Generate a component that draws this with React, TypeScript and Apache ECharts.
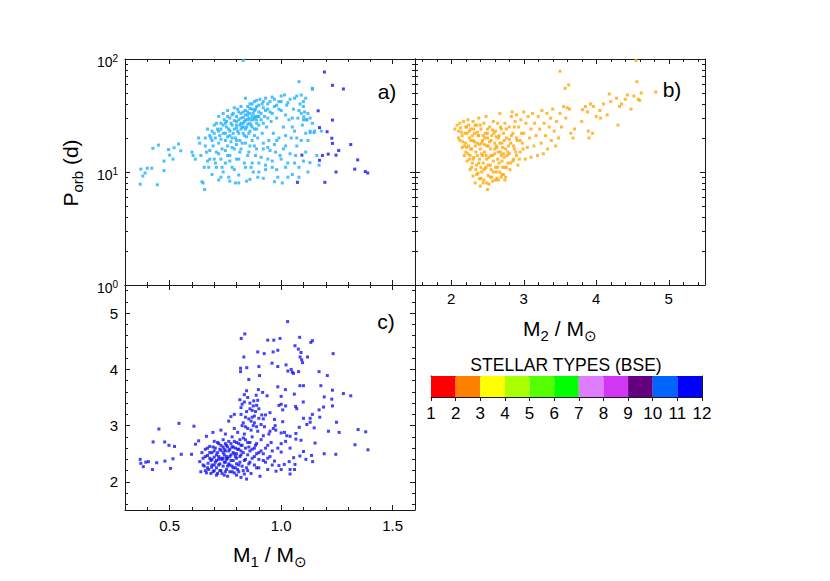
import React, { useEffect, useRef } from 'react';
import * as echarts from 'echarts';

const FONT = '"Liberation Sans", Arial, Helvetica, sans-serif';

// Panel a) : [M1 (Msun), Porb (d)]  — light-blue population
const panelALight: [number, number][] = [
  [0.368, 7.8], [0.371, 10.6], [0.38, 9.2], [0.39, 9.8], [0.4, 10.8], [0.42, 10.8], [0.425, 16.2], [0.445, 7.7],
  [0.45, 17.3], [0.475, 10.3], [0.475, 12.5], [0.495, 15.8], [0.5, 14.1], [0.515, 13], [0.52, 16.4], [0.54, 17.7], [0.55, 15.4],
  [0.6, 15], [0.605, 14], [0.615, 13], [0.63, 20], [0.635, 18], [0.64, 14], [0.645, 8.2], [0.65, 8], [0.655, 11], [0.657, 7],
  [0.66, 20], [0.665, 15], [0.67, 12.5], [0.675, 11], [0.68, 15.5], [0.68, 21], [0.685, 20], [0.69, 23], [0.69, 9.5], [0.695, 17], [0.7, 13],
  [0.7, 26], [0.705, 20], [0.71, 15], [0.71, 11], [0.715, 24], [0.72, 18], [0.72, 8.5], [0.725, 21], [0.73, 13], [0.73, 27], [0.735, 16],
  [0.74, 22], [0.74, 10], [0.745, 29], [0.75, 19], [0.75, 12], [0.755, 25], [0.76, 17], [0.76, 31], [0.765, 9], [0.77, 23], [0.77, 14],
  [0.775, 27], [0.78, 20], [0.78, 11], [0.785, 33], [0.79, 24], [0.79, 16], [0.795, 8], [0.8, 28], [0.8, 19], [0.8, 13], [0.805, 36],
  [0.81, 22], [0.81, 9.4], [0.815, 26], [0.815, 15], [0.83, 97],
  [0.82, 30], [0.82, 24], [0.825, 18], [0.83, 34], [0.83, 27], [0.835, 21], [0.835, 12], [0.84, 45], [0.84, 32], [0.845, 25], [0.845, 8.3],
  [0.85, 38], [0.85, 29], [0.855, 22], [0.855, 15], [0.86, 40], [0.86, 33], [0.865, 26], [0.865, 11], [0.87, 36], [0.87, 19], [0.875, 29],
  [0.875, 10], [0.88, 42], [0.88, 24], [0.885, 31], [0.885, 14], [0.89, 38], [0.89, 27], [0.895, 20], [0.895, 9], [0.9, 34], [0.9, 12],
  [0.905, 44], [0.91, 29], [0.915, 22], [0.92, 37], [0.92, 16], [0.925, 31], [0.93, 45], [0.93, 10.5], [0.935, 25], [0.94, 40], [0.94, 13],
  [0.945, 19], [0.95, 34], [0.955, 28], [0.96, 46], [0.96, 11], [0.965, 22], [0.97, 38], [0.975, 15], [0.98, 30], [0.985, 9], [0.99, 42],
  [0.99, 20], [0.995, 14],
  [1.0, 35], [1.005, 8], [1.01, 25], [1.015, 48], [1.02, 17], [1.025, 39], [1.03, 12], [1.035, 29], [1.04, 44], [1.045, 20], [1.05, 9.5],
  [1.055, 36], [1.06, 23], [1.065, 14], [1.07, 47], [1.075, 30], [1.08, 11], [1.085, 40], [1.09, 19], [1.095, 26],
  [1.1, 42], [1.105, 34], [1.11, 22], [1.115, 29], [1.12, 10], [1.13, 23], [1.14, 55], [1.15, 23], [1.16, 14], [1.17, 11.5], [1.18, 23],
  [0.72, 23], [0.73, 19.5], [0.74, 26], [0.75, 22], [0.755, 28], [0.76, 20.5], [0.765, 24], [0.77, 30], [0.775, 18.5], [0.78, 26],
  [0.785, 22], [0.79, 28.5], [0.795, 20], [0.8, 24.5], [0.8, 31], [0.805, 23], [0.81, 29], [0.815, 19], [0.82, 27], [0.82, 33],
  [0.825, 25], [0.83, 22], [0.83, 30.5], [0.835, 28], [0.84, 24], [0.84, 35], [0.845, 20.5], [0.85, 26.5], [0.85, 32], [0.855, 30],
  [0.86, 23], [0.86, 36.5], [0.865, 29], [0.87, 25], [0.87, 40], [0.875, 33], [0.88, 21], [0.88, 30], [0.885, 36], [0.89, 24],
  [0.89, 43], [0.895, 31], [0.9, 26], [0.9, 39], [0.91, 33], [0.915, 40], [0.92, 27], [0.93, 35], [0.94, 30], [0.95, 42],
  [0.705, 12], [0.72, 14.5], [0.735, 11], [0.75, 15.5], [0.77, 12.5], [0.78, 16.5], [0.79, 10.5], [0.81, 13], [0.82, 16], [0.84, 11],
  [0.85, 14], [0.86, 17], [0.87, 12], [0.89, 16], [0.9, 10], [0.91, 13.5], [0.92, 18], [0.93, 11.5], [0.95, 15.5], [0.96, 12.5],
  [0.97, 17.5], [0.98, 10.5], [1.0, 13], [1.01, 16], [1.02, 11], [1.04, 14.5], [1.06, 12], [1.07, 17], [1.08, 9], [1.1, 12.5],
  [0.97, 44], [0.99, 36], [1.0, 47], [1.02, 32], [1.03, 41], [1.05, 30], [1.06, 45], [1.08, 35], [1.09, 48], [1.1, 38], [1.11, 45],
  [1.12, 33], [1.13, 30], [1.1, 29], [1.08, 63], [1.14, 54], [1.13, 22.3], [1.147, 22.3], [1.129, 12.1], [1.102, 30.8], [1.113, 29],
  [0.66, 17], [0.67, 24], [0.68, 13], [0.69, 19], [0.7, 22], [0.71, 27], [0.72, 31], [0.73, 24], [0.74, 33], [0.75, 27], [0.76, 35],
  [0.77, 21], [0.78, 32], [0.79, 37], [0.8, 26], [0.81, 34], [0.82, 38], [0.83, 25], [0.84, 29], [0.85, 34], [0.86, 27], [0.87, 31],
  [0.88, 35], [0.89, 29], [0.9, 31], [0.92, 42], [0.94, 36], [0.96, 33], [0.98, 39], [1.0, 42], [0.73, 9], [0.77, 8.3], [0.81, 8],
  [0.86, 8.6], [0.92, 8.8], [0.97, 8.2], [1.03, 9], [0.76, 14], [0.8, 17.5], [0.84, 18], [0.88, 17], [0.94, 16.5], [0.98, 19],
  [1.02, 21], [1.05, 25], [1.07, 20], [1.09, 33], [1.11, 15], [1.12, 19], [1.14, 27],
];

// Panel a) : dark-blue population
const panelADark: [number, number][] = [
  [1.194, 76.7], [1.23, 58.5], [1.279, 54.3], [1.166, 34.8], [1.23, 28.8], [1.172, 24.7], [1.206, 22.7], [1.227, 19.9], [1.23, 17.9],
  [1.312, 17.5], [1.258, 15.5], [1.246, 14.1], [1.211, 14.4], [1.185, 14], [1.172, 12.7], [1.093, 14.1], [1.343, 12.8], [1.33, 10.6],
  [1.246, 10], [1.377, 10.1], [1.388, 9.8], [1.073, 8.1], [1.196, 8.1],
];

// Panel b) : [M2 (Msun), Porb (d)]
const panelB: [number, number][] = [
  [2.05, 24], [2.08, 26], [2.1, 23], [2.12, 27], [2.12, 19], [2.15, 21], [2.15, 16.5], [2.17, 28], [2.18, 14], [2.2, 25], [2.2, 18],
  [2.2, 15], [2.22, 22], [2.22, 12.5], [2.23, 29], [2.24, 17], [2.25, 13], [2.25, 20], [2.26, 10.5], [2.27, 24], [2.28, 11], [2.28, 16],
  [2.3, 28], [2.3, 19], [2.3, 9.2], [2.31, 13.5], [2.32, 22], [2.33, 8], [2.34, 15], [2.35, 26], [2.35, 11.5], [2.36, 18], [2.37, 9.8],
  [2.38, 30], [2.38, 21], [2.39, 13], [2.4, 7.5], [2.4, 16], [2.41, 24], [2.42, 10], [2.43, 19], [2.44, 12], [2.45, 27], [2.45, 8.5],
  [2.46, 15], [2.47, 22], [2.48, 31], [2.48, 11], [2.49, 17], [2.5, 7], [2.5, 20], [2.51, 9.3], [2.52, 13.5], [2.53, 25], [2.54, 16],
  [2.55, 10.5], [2.56, 21], [2.57, 8.3], [2.58, 28], [2.58, 12.5], [2.6, 18], [2.6, 14.5], [2.61, 23], [2.62, 10], [2.63, 16.5],
  [2.64, 27], [2.65, 8.5], [2.65, 20], [2.66, 12], [2.67, 33], [2.68, 15], [2.69, 24], [2.7, 9.5], [2.7, 18], [2.71, 11], [2.72, 22],
  [2.73, 13.5], [2.74, 27], [2.75, 16], [2.75, 9], [2.76, 20], [2.78, 12], [2.8, 25], [2.8, 14.5], [2.82, 18], [2.83, 31], [2.84, 34],
  [2.85, 22], [2.86, 13], [2.87, 16], [2.88, 28], [2.9, 20], [2.9, 32], [2.92, 11.5], [2.93, 25], [2.95, 15], [2.96, 29], [2.98, 18],
  [3.0, 22], [3.0, 34], [3.02, 13], [3.03, 27], [3.05, 16.5], [3.06, 31], [3.08, 20], [3.1, 24], [3.1, 13.5], [3.12, 33], [3.14, 17],
  [3.15, 27], [3.17, 21], [3.19, 14], [3.2, 31], [3.22, 24], [3.24, 18], [3.25, 35], [3.27, 14.5], [3.28, 27], [3.3, 21], [3.32, 33],
  [3.33, 16], [3.35, 25], [3.37, 30], [3.38, 19], [3.4, 36], [3.42, 23], [3.44, 17], [3.45, 28], [3.48, 20], [3.5, 33], [3.52, 25],
  [3.5, 78], [3.55, 38], [3.57, 55], [3.58, 30], [3.6, 37], [3.62, 59], [3.63, 36], [3.65, 22], [3.68, 20], [3.7, 24], [3.8, 28],
  [3.81, 35.6], [3.85, 38], [3.88, 34], [3.89, 23], [3.9, 20], [3.92, 40], [3.95, 22], [3.96, 38], [4.0, 31], [4.05, 35], [4.06, 30],
  [4.1, 40], [4.15, 32], [4.18, 49], [4.2, 42], [4.28, 45], [4.3, 26], [4.32, 38], [4.35, 40], [4.4, 44], [4.43, 48], [4.48, 36],
  [4.52, 47], [4.55, 97], [4.56, 63], [4.58, 44], [4.6, 43], [4.62, 50], [4.82, 51],
  [2.1, 20], [2.13, 24.5], [2.16, 18.5], [2.19, 22], [2.21, 16.5], [2.24, 26], [2.26, 14], [2.27, 19], [2.29, 12], [2.31, 24],
  [2.33, 17], [2.34, 10.5], [2.36, 14], [2.37, 21], [2.39, 8.7], [2.41, 11], [2.42, 18], [2.43, 14], [2.44, 8], [2.46, 20],
  [2.47, 10.8], [2.49, 13], [2.5, 24], [2.51, 17], [2.52, 7.8], [2.54, 11.5], [2.55, 19], [2.56, 9], [2.57, 14], [2.59, 22],
  [2.61, 11], [2.62, 17], [2.63, 8.8], [2.64, 13], [2.66, 21], [2.67, 10], [2.68, 25], [2.69, 14], [2.71, 16.5], [2.72, 9.5],
  [2.73, 19], [2.74, 11], [2.76, 24], [2.77, 14], [2.79, 17], [2.81, 10.5], [2.83, 21], [2.85, 12.5], [2.87, 25], [2.89, 15],
  [2.91, 19], [2.94, 13], [2.97, 22], [2.99, 16],
  [2.14, 22.5], [2.18, 17], [2.21, 25], [2.23, 14.5], [2.25, 23], [2.27, 16], [2.29, 21], [2.3, 13], [2.32, 18.5], [2.33, 26],
  [2.35, 9.5], [2.36, 22.5], [2.38, 12], [2.39, 17.5], [2.4, 26], [2.41, 8.8], [2.42, 14.5], [2.44, 21], [2.45, 10.5], [2.46, 17.5],
  [2.48, 14], [2.49, 8], [2.5, 22], [2.51, 11.5], [2.53, 18.5], [2.54, 9], [2.55, 14], [2.57, 23.5], [2.58, 10], [2.6, 16],
  [2.61, 8.5], [2.62, 20.5], [2.64, 11], [2.65, 15], [2.67, 18], [2.69, 9], [2.7, 12.5], [2.72, 14.5], [2.74, 8.5], [2.76, 11],
  [2.78, 15], [2.8, 19.5], [2.82, 12], [2.86, 17], [2.9, 14], [2.95, 19],
];

// Panel c) : [M1 (Msun), M2 (Msun)]
const panelC: [number, number][] = [
  [0.368, 2.4], [0.371, 2.33], [0.382, 2.27], [0.393, 2.35], [0.405, 2.36], [0.423, 2.22], [0.426, 2.71], [0.442, 2.34], [0.452, 2.94],
  [0.478, 2.71], [0.479, 2.37], [0.497, 2.65], [0.504, 2.24], [0.515, 2.41], [0.522, 2.63], [0.542, 3.04], [0.552, 2.49], [0.598, 2.49],
  [0.609, 2.99], [0.616, 2.67],
  [0.63, 2.73], [0.635, 2.36], [0.64, 2.18], [0.645, 2.52], [0.65, 2.42], [0.655, 2.28], [0.66, 2.58], [0.665, 2.81], [0.665, 2.16],
  [0.67, 2.47], [0.672, 2.33], [0.675, 2.22], [0.68, 2.63], [0.685, 2.38], [0.688, 2.26], [0.69, 2.52], [0.694, 2.88], [0.695, 2.18],
  [0.7, 2.72], [0.7, 2.44], [0.7, 2.3],
  [0.705, 2.6], [0.71, 2.25], [0.71, 2.38], [0.715, 2.52], [0.715, 2.15], [0.72, 2.68], [0.72, 2.45], [0.725, 2.32], [0.73, 2.92],
  [0.73, 2.56], [0.73, 2.2], [0.735, 2.4], [0.74, 2.75], [0.74, 2.62], [0.74, 2.28], [0.745, 2.48], [0.745, 2.12], [0.75, 2.85],
  [0.75, 2.55], [0.75, 2.35], [0.755, 2.65], [0.755, 2.22], [0.76, 2.42], [0.76, 2.1], [0.765, 2.72], [0.765, 3.08], [0.77, 2.58],
  [0.77, 2.3], [0.775, 2.48], [0.775, 3.16], [0.78, 2.8], [0.78, 2.18], [0.785, 2.62], [0.785, 2.38], [0.79, 2.95], [0.79, 2.5],
  [0.79, 3.2], [0.795, 2.25], [0.8, 2.7], [0.8, 2.42], [0.8, 2.12],
  [0.805, 2.88], [0.81, 2.58], [0.81, 2.3], [0.815, 3.46], [0.815, 2.75], [0.818, 4.02], [0.818, 3.96], [0.82, 3.32], [0.82, 2.48],
  [0.82, 2.08], [0.821, 4.55], [0.825, 3.0], [0.825, 2.65], [0.83, 2.2], [0.833, 4.22], [0.835, 3.55], [0.835, 2.85], [0.837, 4.63],
  [0.84, 3.15], [0.84, 2.4], [0.845, 3.62], [0.845, 2.05], [0.846, 4.03], [0.85, 2.95], [0.85, 2.7], [0.855, 3.82], [0.855, 2.32],
  [0.86, 3.3], [0.86, 2.55], [0.865, 3.08], [0.865, 2.15], [0.87, 3.27], [0.87, 2.8], [0.875, 3.0], [0.877, 3.44], [0.88, 2.45],
  [0.88, 3.17], [0.885, 2.65], [0.888, 3.54], [0.89, 3.36], [0.89, 2.25], [0.895, 4.31], [0.895, 2.9], [0.898, 3.64], [0.9, 4.05],
  [0.9, 2.52], [0.9, 3.13],
  [0.903, 3.89], [0.905, 2.1], [0.91, 2.75], [0.913, 3.19], [0.917, 3.59], [0.92, 2.38], [0.924, 4.28], [0.925, 2.98], [0.93, 3.19],
  [0.93, 2.6], [0.937, 3.53], [0.94, 4.52], [0.94, 2.22], [0.945, 2.85], [0.95, 3.23], [0.95, 2.45], [0.955, 2.7], [0.959, 4.11],
  [0.96, 2.3], [0.964, 4.31], [0.965, 2.95], [0.967, 4.52], [0.97, 3.11],
  [0.985, 4.34], [0.995, 4.55], [1.029, 4.85], [1.083, 4.57], [1.133, 4.48], [1.14, 4.51], [1.062, 4.42], [1.077, 4.36], [1.089, 4.3],
  [1.085, 4.22], [1.092, 4.17], [1.096, 4.12], [1.118, 4.22], [1.233, 4.28], [1.022, 4.08], [0.985, 4.05], [1.03, 3.97], [1.045, 4.0],
  [1.05, 3.95], [1.055, 3.93], [1.078, 3.96], [1.17, 3.96], [1.207, 3.89], [1.084, 3.71], [1.1, 3.71], [1.178, 3.71], [0.985, 3.69],
  [1.019, 3.64], [1.0, 3.52], [1.059, 3.56], [1.23, 3.63], [1.279, 3.57], [1.312, 3.53], [1.193, 3.51], [1.227, 3.47], [1.099, 3.42],
  [1.23, 3.35], [0.99, 3.36], [1.0, 3.38], [1.02, 3.35], [1.065, 3.34], [1.07, 3.3], [1.007, 3.28], [1.19, 3.33], [1.17, 3.28],
  [1.14, 3.2], [1.13, 3.13], [1.1, 3.13], [1.173, 3.15], [1.115, 3.02], [1.13, 3.06], [1.248, 3.06], [1.148, 2.96], [1.081, 2.97],
  [1.007, 3.07], [0.973, 3.0], [0.976, 2.92], [1.212, 2.9], [1.26, 2.88], [1.345, 2.93], [1.379, 2.89], [1.0, 2.87], [1.015, 2.88],
  [1.025, 2.82], [1.04, 2.81], [1.066, 2.86], [1.066, 2.76], [1.089, 2.74], [1.0, 2.68], [1.02, 2.72], [1.04, 2.6], [1.152, 2.69],
  [1.331, 2.66], [1.389, 2.57], [0.985, 2.6], [1.0, 2.53], [1.1, 2.54], [1.193, 2.5], [1.245, 2.49], [1.136, 2.47], [1.084, 2.46],
  [1.111, 2.4], [1.141, 2.36], [1.056, 2.43], [1.036, 2.36], [1.014, 2.31], [0.99, 2.29], [0.97, 2.37], [1.062, 2.31], [1.04, 2.22],
  [1.06, 2.22], [1.04, 2.14], [1.0, 2.22], [0.977, 2.19],
  [0.66, 2.45], [0.67, 2.25], [0.68, 2.52], [0.685, 2.15], [0.69, 2.4], [0.695, 2.62], [0.7, 2.2], [0.705, 2.35], [0.71, 2.48],
  [0.715, 2.7], [0.72, 2.3], [0.725, 2.58], [0.73, 2.42], [0.735, 2.15], [0.74, 2.52], [0.745, 2.35], [0.75, 2.68], [0.755, 2.45],
  [0.76, 2.28], [0.765, 2.55], [0.77, 2.18], [0.775, 2.38], [0.78, 2.62], [0.785, 2.25], [0.79, 2.72], [0.795, 2.45], [0.8, 2.32],
  [0.805, 2.58], [0.81, 2.18], [0.815, 2.45], [0.82, 2.65], [0.825, 2.28], [0.83, 2.52], [0.835, 2.38], [0.84, 2.75], [0.845, 2.25],
  [0.85, 2.48], [0.855, 2.62], [0.86, 2.35], [0.87, 2.58], [0.88, 2.3], [0.89, 2.68], [0.9, 2.4], [0.91, 2.55], [0.92, 2.82],
  [0.93, 2.35], [0.94, 2.65], [0.95, 2.9], [0.96, 2.55],
  [0.82, 3.2], [0.825, 3.38], [0.83, 3.05], [0.835, 3.42], [0.84, 2.98], [0.845, 3.25], [0.85, 3.5], [0.855, 3.12], [0.86, 3.4],
  [0.865, 2.92], [0.87, 3.15], [0.875, 3.35], [0.88, 3.05], [0.885, 3.25], [0.89, 2.98], [0.895, 3.45], [0.9, 3.3], [0.91, 3.02],
  [0.92, 3.12],
  [0.65, 2.3], [0.66, 2.2], [0.67, 2.6], [0.68, 2.42], [0.69, 2.3], [0.7, 2.55], [0.71, 2.12], [0.72, 2.4], [0.725, 2.2], [0.73, 2.65],
  [0.74, 2.42], [0.745, 2.58], [0.75, 2.18], [0.755, 2.4], [0.76, 2.62], [0.765, 2.32], [0.77, 2.45], [0.775, 2.68], [0.78, 2.28],
  [0.785, 2.52], [0.79, 2.16], [0.795, 2.6], [0.8, 2.5], [0.805, 2.22], [0.81, 2.68], [0.815, 2.35], [0.82, 2.55], [0.83, 2.78],
  [0.835, 2.14], [0.84, 2.6], [0.85, 2.2], [0.86, 2.7], [0.87, 2.42], [0.88, 2.6], [0.89, 2.5], [0.9, 2.25], [0.92, 2.5], [0.94, 2.42],
];

// Axis ticks
const m1MajorTicks = [0.5, 1.0, 1.5];
const m1MinorTicks = [0.4, 0.6, 0.7, 0.8, 0.9, 1.1, 1.2, 1.3, 1.4];
const m2MajorTicks = [2, 3, 4, 5];
const m2MinorTicks = [1.6, 1.8, 2.2, 2.4, 2.6, 2.8, 3.2, 3.4, 3.6, 3.8, 4.2, 4.4, 4.6, 4.8, 5.2, 5.4];
const pMajorTicks = [1, 10, 100];
const pMinorTicks = [2, 3, 4, 5, 6, 7, 8, 9, 20, 30, 40, 50, 60, 70, 80, 90];

// Colour bar (stellar types)
const typeTicks = [1, 2, 3, 4, 5, 6, 7, 8, 9, 10, 11, 12];
const typeColors = ['#ff0000', '#ff8000', '#ffff00', '#aaff00', '#55ff00', '#00ff00', '#e07cff', '#d236f5', '#640080', '#0064ff', '#0000ff'];

const COL_A_LIGHT = '#1eb0ff';
const COL_A_DARK = '#1414f0';
const COL_B = '#ffa80a';
const COL_C = '#1414f5';

function buildOption(): any {
  const xAxes: any[] = [];
  const yAxes: any[] = [];
  const add = (dim: 'x' | 'y', cfg: any) => {
    const arr = dim === 'x' ? xAxes : yAxes;
    arr.push(cfg);
    return arr.length - 1;
  };
  const lineStyle = { color: '#1a1a1a', width: 1 };
  const tickAxis = (
    dim: 'x' | 'y', grid: number, position: string, min: number, max: number,
    ticks: number[], len: number, withLine: boolean, label?: any,
  ) => {
    const cfg: any = {
      type: 'value', gridIndex: grid, position, min, max,
      axisLine: { show: withLine, onZero: false, lineStyle },
      axisTick: { show: true, inside: true, length: len, customValues: ticks, lineStyle },
      axisLabel: { show: false },
      splitLine: { show: false },
      silent: true,
    };
    if (label) {
      cfg.axisLabel = {
        show: true, customValues: label.values, margin: label.margin, formatter: label.formatter,
        color: '#000', fontSize: 15, fontFamily: FONT, ...(label.extra || {}),
      };
    }
    return add(dim, cfg);
  };
  const dataAxis = (dim: 'x' | 'y', grid: number, type: string, min: number, max: number) =>
    add(dim, { type, gridIndex: grid, min, max, show: false, ...(type === 'log' ? { logBase: 10 } : {}),
      axisLine: { onZero: false }, splitLine: { show: false } });

  const lg = (a: number[]) => a.map((v) => Math.log10(v));
  const pLabel = {
    values: lg(pMajorTicks), margin: 7,
    formatter: (v: number) => `{b|10}{s|${Math.round(v)}}`,
    extra: {
      padding: [5, 0, 0, 0],
      rich: {
        b: { fontSize: 14, lineHeight: 16, fontFamily: FONT, color: '#000' },
        s: { fontSize: 10, lineHeight: 10, verticalAlign: 'top', fontFamily: FONT, color: '#000' },
      },
    },
  };
  const MAJ = 5, MIN = 3;

  // ---- grid 0: panel a ----
  const ax0 = dataAxis('x', 0, 'value', 0.3, 1.6);
  const ay0 = dataAxis('y', 0, 'log', 1, 100);
  tickAxis('x', 0, 'bottom', 0.3, 1.6, m1MajorTicks, MAJ, true);
  tickAxis('x', 0, 'bottom', 0.3, 1.6, m1MinorTicks, MIN, false);
  tickAxis('x', 0, 'top', 0.3, 1.6, m1MajorTicks, MAJ, true);
  tickAxis('x', 0, 'top', 0.3, 1.6, m1MinorTicks, MIN, false);
  tickAxis('y', 0, 'left', 0, 2, lg(pMajorTicks), MAJ, true, pLabel);
  tickAxis('y', 0, 'left', 0, 2, lg(pMinorTicks), MIN, false);
  tickAxis('y', 0, 'right', 0, 2, lg(pMajorTicks), MAJ, true);
  tickAxis('y', 0, 'right', 0, 2, lg(pMinorTicks), MIN, false);

  // ---- grid 1: panel b ----
  const ax1 = dataAxis('x', 1, 'value', 1.5, 5.5);
  const ay1 = dataAxis('y', 1, 'log', 1, 100);
  tickAxis('x', 1, 'bottom', 1.5, 5.5, m2MajorTicks, MAJ, true, { values: m2MajorTicks, margin: 6, formatter: (v: number) => String(v) });
  tickAxis('x', 1, 'bottom', 1.5, 5.5, m2MinorTicks, MIN, false);
  tickAxis('x', 1, 'top', 1.5, 5.5, m2MajorTicks, MAJ, true);
  tickAxis('x', 1, 'top', 1.5, 5.5, m2MinorTicks, MIN, false);
  tickAxis('y', 1, 'left', 0, 2, lg(pMajorTicks), MAJ, true);
  tickAxis('y', 1, 'left', 0, 2, lg(pMinorTicks), MIN, false);
  tickAxis('y', 1, 'right', 0, 2, lg(pMajorTicks), MAJ, true);
  tickAxis('y', 1, 'right', 0, 2, lg(pMinorTicks), MIN, false);

  // ---- grid 2: panel c ----
  const ax2 = dataAxis('x', 2, 'value', 0.3, 1.6);
  const ay2 = dataAxis('y', 2, 'value', 1.5, 5.5);
  tickAxis('x', 2, 'bottom', 0.3, 1.6, m1MajorTicks, MAJ, true, { values: m1MajorTicks, margin: 8, formatter: (v: number) => v.toFixed(1) });
  tickAxis('x', 2, 'bottom', 0.3, 1.6, m1MinorTicks, MIN, false);
  tickAxis('x', 2, 'top', 0.3, 1.6, m1MajorTicks, MAJ, true);
  tickAxis('x', 2, 'top', 0.3, 1.6, m1MinorTicks, MIN, false);
  tickAxis('y', 2, 'left', 1.5, 5.5, m2MajorTicks, MAJ, true, { values: m2MajorTicks, margin: 7, formatter: (v: number) => String(v) });
  tickAxis('y', 2, 'left', 1.5, 5.5, m2MinorTicks, MIN, false);
  tickAxis('y', 2, 'right', 1.5, 5.5, m2MajorTicks, MAJ, true);
  tickAxis('y', 2, 'right', 1.5, 5.5, m2MinorTicks, MIN, false);

  // ---- grid 3: colour bar ----
  const cbx = add('x', {
    type: 'value', gridIndex: 3, position: 'bottom', min: 1, max: 12,
    axisLine: { show: true, onZero: false, lineStyle },
    axisTick: { show: true, inside: false, length: 4, customValues: typeTicks, lineStyle },
    axisLabel: { show: true, customValues: typeTicks, margin: 8, color: '#000', fontSize: 17, fontFamily: FONT },
    splitLine: { show: false },
  });
  add('x', {
    type: 'value', gridIndex: 3, position: 'top', min: 1, max: 12,
    axisLine: { show: true, onZero: false, lineStyle }, axisTick: { show: false }, axisLabel: { show: false }, splitLine: { show: false },
  });
  const cby = add('y', {
    type: 'value', gridIndex: 3, position: 'left', min: 0, max: 1,
    axisLine: { show: true, onZero: false, lineStyle }, axisTick: { show: false }, axisLabel: { show: false }, splitLine: { show: false },
  });
  add('y', {
    type: 'value', gridIndex: 3, position: 'right', min: 0, max: 1,
    axisLine: { show: true, onZero: false, lineStyle }, axisTick: { show: false }, axisLabel: { show: false }, splitLine: { show: false },
  });

  const scatter = (data: [number, number][], xi: number, yi: number, color: string) => ({
    type: 'scatter', xAxisIndex: xi, yAxisIndex: yi, data, symbol: 'rect', symbolSize: 3,
    itemStyle: { color }, silent: true,
  });

  const titleRich = {
    m: { fontSize: 21, lineHeight: 30, fontFamily: FONT, fill: '#000' },
    s: { fontSize: 15, lineHeight: 15, verticalAlign: 'bottom', fontFamily: FONT, fill: '#000' },
  };
  const txt = (x: number, y: number, text: string, extra: any = {}) => ({
    type: 'text', x, y, silent: true, ...extra,
    style: {
      text, rich: titleRich, fill: '#000', font: `21px ${FONT}`,
      align: 'center', verticalAlign: 'middle', textAlign: 'center', textVerticalAlign: 'middle',
      ...(extra.style || {}),
    },
  });

  return {
    animation: false,
    backgroundColor: '#fff',
    grid: [
      { left: 125, top: 59, width: 290, height: 226 },
      { left: 415, top: 59, width: 290, height: 226 },
      { left: 125, top: 285, width: 290, height: 225 },
      { left: 431, top: 376, width: 271, height: 21 },
    ],
    xAxis: xAxes,
    yAxis: yAxes,
    series: [
      scatter(panelALight, ax0, ay0, COL_A_LIGHT),
      scatter(panelADark, ax0, ay0, COL_A_DARK),
      scatter(panelB, ax1, ay1, COL_B),
      scatter(panelC, ax2, ay2, COL_C),
      {
        type: 'custom', xAxisIndex: cbx, yAxisIndex: cby, silent: true, clip: false,
        data: typeColors.map((_, i) => [typeTicks[i], typeTicks[i + 1]]),
        renderItem: (params: any, api: any) => {
          const a = api.coord([api.value(0), 1]);
          const b = api.coord([api.value(1), 0]);
          return {
            type: 'rect',
            shape: { x: a[0], y: a[1], width: b[0] - a[0], height: b[1] - a[1] },
            style: { fill: typeColors[params.dataIndex], stroke: null },
          };
        },
        z: 1,
      },
    ],
    graphic: [
      txt(70, 173, '{m|P}{s|orb}{m| (d)}', { rotation: Math.PI / 2 }),
      txt(560, 328, '{m|M}{s|2}{m| / M}{s|⊙}'),
      txt(270, 554, '{m|M}{s|1}{m| / M}{s|⊙}'),
      txt(387, 91, '{m|a)}'),
      txt(672, 89, '{m|b)}'),
      txt(386, 321, '{m|c)}'),
      {
        type: 'text', x: 566, y: 364.5, silent: true,
        style: {
          text: 'STELLAR TYPES (BSE)', fill: '#000', font: `17.5px ${FONT}`,
          align: 'center', verticalAlign: 'middle', textAlign: 'center', textVerticalAlign: 'middle',
        },
      },
    ],
  };
}

export default function App() {
  const ref = useRef<HTMLDivElement>(null);
  useEffect(() => {
    if (!ref.current) return;
    const chart = echarts.init(ref.current, undefined, { renderer: 'svg' });
    chart.setOption(buildOption());
    return () => chart.dispose();
  }, []);
  return <div ref={ref} style={{ position: 'absolute', left: 0, top: 0, width: 830, height: 581 }} />;
}
